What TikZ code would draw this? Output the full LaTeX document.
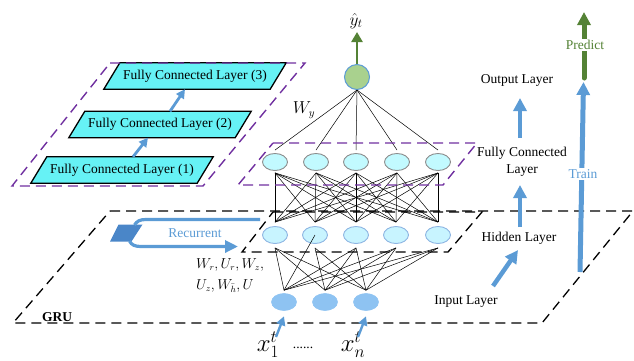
\documentclass[tikz,border=0pt]{standalone}
\usepackage{fontspec}
\setmainfont{Liberation Serif}
\usetikzlibrary{arrows.meta,shapes.geometric,backgrounds,calc}
\definecolor{fcfill}{HTML}{66F2F5}
\definecolor{upfill}{HTML}{C2FAFF}
\definecolor{upborder}{HTML}{8C8C8C}
\definecolor{hidfill}{HTML}{C8F4FF}
\definecolor{hidborder}{HTML}{8DB4E2}
\definecolor{inpfill}{HTML}{8EC3F2}
\definecolor{myblue}{HTML}{5B9BD5}
\definecolor{mygreen}{HTML}{548235}
\definecolor{circfill}{HTML}{A9D18E}
\definecolor{purp}{HTML}{7030A0}
\definecolor{recfill}{HTML}{4A86C8}
\begin{document}
\begin{tikzpicture}[x=1pt,y=-1pt,
  every node/.style={font=\fontsize{13.5}{17}\selectfont, inner sep=0pt},
  fcbox/.style={minimum width=166pt, minimum height=26pt},
  fcshape/.style={draw=black, line width=1.3pt, fill=fcfill, line join=miter},
  upnode/.style={ellipse, draw=upborder, fill=upfill, line width=0.9pt, minimum width=25pt, minimum height=17pt},
  hidnode/.style={ellipse, draw=hidborder, fill=hidfill, line width=0.9pt, minimum width=25pt, minimum height=17pt},
  inpnode/.style={ellipse, draw=inpfill, fill=inpfill, line width=0.6pt, minimum width=25pt, minimum height=17pt},
  purpdash/.style={draw=purp, line width=1.4pt, dash pattern=on 10pt off 6pt},
  blackdash/.style={draw=black, line width=1.3pt, dash pattern=on 10pt off 6pt},
  conn/.style={draw=black, line width=0.5pt},
  smallarrow/.style={draw=myblue, line width=2.8pt, -{Triangle[length=9pt,width=9pt]}},
  bigarrow/.style={draw=myblue, line width=4.5pt, -{Triangle[length=13pt,width=13pt]}},
  recline/.style={draw=myblue, line width=3.2pt}
]
\useasboundingbox (0,0) rectangle (634,360);

% left purple plane
\draw[purpdash] (110,63) -- (305,63) -- (203,186) -- (12,186) -- cycle;

% fully connected stack
\node[fcbox] (fc3) at (195,76) {Fully Connected Layer (3)};
\node[fcbox] (fc2) at (160,124.5) {Fully Connected Layer (2)};
\node[fcbox] (fc1) at (122,170) {Fully Connected Layer (1)};
\begin{scope}[on background layer]
\foreach \n in {fc1,fc2,fc3}
  \draw[fcshape] ([xshift=-8pt]\n.south west) -- ([xshift=-8pt]\n.south east)
    -- ([xshift=8pt]\n.north east) -- ([xshift=8pt]\n.north west) -- cycle;
\end{scope}
\draw[smallarrow] ([xshift=11pt]fc1.north) -- ([xshift=-12pt]fc2.south);
\draw[smallarrow] ([xshift=10pt]fc2.north) -- ([xshift=-10pt]fc3.south);

% network nodes
\node[circle, draw=myblue, fill=circfill, line width=1pt, minimum size=25pt] (o) at (357,77) {};
\foreach \x [count=\i] in {275,316,356,397,438}
  \node[upnode] (u\i) at (\x,162) {};
\foreach \x [count=\i] in {275,315,356,396,438}
  \node[hidnode] (h\i) at (\x,235) {};
\foreach \x [count=\i] in {284,325,366}
  \node[inpnode] (i\i) at (\x,302) {};

% connections
\foreach \i in {1,...,5}
  \draw[conn] (o.south) -- ([yshift=3pt]u\i.north);
\foreach \i in {1,...,5}
  \foreach \j in {1,...,5}
    \draw[conn] ([yshift=-2pt]u\i.south) -- ([yshift=4pt]h\j.north);
\foreach \i in {1,3,4,5}
  \foreach \j in {1,2,3}
    \draw[conn] ([yshift=-4pt]h\i.south) -- ([yshift=3pt]i\j.north);
\foreach \j in {2,3}
  \draw[conn] ([yshift=-4pt]h2.south) -- ([yshift=3pt]i\j.north);
\draw[conn] (h2.center) -- ([yshift=3pt]i1.north);

% dashed planes on top of the connections
\draw[purpdash] (273,143) -- (477,143) -- (443,185) -- (238,185) -- cycle;
\draw[blackdash] (110,211) -- (633,211) -- (542,323) -- (13,323) -- cycle;
\draw[blackdash] (273,212) -- (482,212) -- (448,252) -- (242,252) -- cycle;

% output
\node (yhat) at (356,21) {\fontsize{18}{20}\selectfont$\hat{y}_t$};
\coordinate (ytip) at (357,32);
\draw[draw=mygreen, line width=2.5pt, -{Triangle[length=10pt,width=11pt]}] (o.north) -- (ytip);
\node (wy) at (304,110) {\fontsize{16}{18}\selectfont$W_y$};

% recurrent
\coordinate (recA) at (118.5,224.5);
\coordinate (recB) at (142.5,224.5);
\coordinate (recC) at (131.5,241.5);
\coordinate (recD) at (110,241.5);
\fill[recfill] (recA) -- (recB) -- (recC) -- (recD) -- cycle;
\coordinate (recstart) at (260,219.5);
\coordinate (recend) at (238,246.5);
\draw[recline] (recstart) -- (146,219.5) .. controls (140,219.5) and (137,221) .. (134.5,225);
\draw[recline, -{Triangle[length=13pt,width=12pt]}] (129.5,241) .. controls (131.5,245) and (135,246.5) .. (141,246.5) -- (recend);
\node[text=myblue] (rec) at (195,233) {Recurrent};
\node[anchor=west] (wr) at (196,265) {$W_r, U_r, W_z,$};
\node[anchor=west] (uz) at (196,286) {$U_z, W_{\bar{h}}, U$};
\node[font=\fontsize{13.5}{17}\selectfont\bfseries] (gru) at (57,317) {GRU};

% inputs
\node (x1) at (268,345) {\fontsize{26}{28}\selectfont$x_1^t$};
\node (xn) at (353,345) {\fontsize{26}{28}\selectfont$x_n^t$};
\node (dots) at (303,348) {......};
\coordinate (x1s) at (276,337);
\coordinate (xns) at (358,337);
\draw[smallarrow, line width=2.4pt] (x1s) -- ([yshift=-5.5pt]i1.south);
\draw[smallarrow, line width=2.4pt] (xns) -- ([yshift=-5.5pt]i3.south);

% right labels
\node (outl) at (517,80) {Output Layer};
\node[align=center] (fcl) at (522,162) {Fully Connected\\Layer};
\node (hidl) at (519,238) {Hidden Layer};
\node (inpl) at (466,302) {Input Layer};
\coordinate (a1s) at (520,138);
\coordinate (a1e) at (520,98);
\coordinate (a2s) at (520,227);
\coordinate (a2e) at (520,185);
\coordinate (a3s) at (493,286);
\coordinate (a3e) at (518,250);
\draw[bigarrow] (a1s) -- (a1e);
\draw[bigarrow] (a2s) -- (a2e);
\draw[bigarrow] (a3s) -- (a3e);

% train / predict
\coordinate (trs) at (580,272);
\coordinate (tre) at (583.5,82);
\coordinate (prs) at (584,78);
\coordinate (pre) at (584,12);
\draw[draw=myblue, line width=5pt, -{Triangle[length=13pt,width=13pt]}] (trs) -- (tre);
\draw[draw=mygreen, line width=5pt, line cap=round, -{Triangle[length=13pt,width=13pt]}] (prs) -- (pre);
\node[fill=white, inner sep=1pt, text=myblue] (train) at (583,174) {Train};
\node[fill=white, inner sep=1pt, text=mygreen] (pred) at (585,45) {Predict};
\end{tikzpicture}
\end{document}
